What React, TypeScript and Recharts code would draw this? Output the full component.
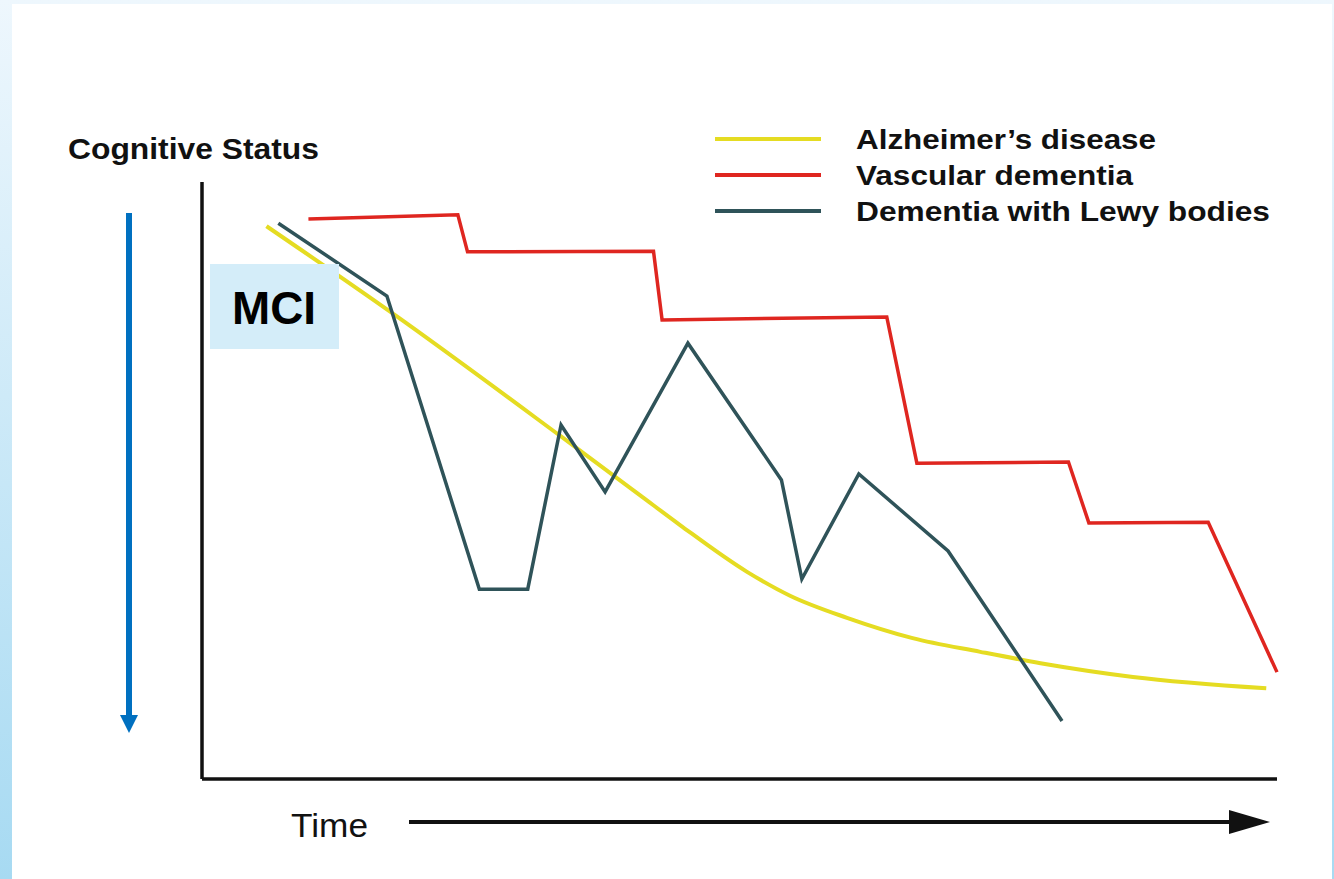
import React from 'react';
import { LineChart, Line, XAxis, YAxis, ReferenceLine } from 'recharts';

// time (0-100) vs cognitive status (0-100)
const alzheimer = [
  { t: 6.0, v: 92.6 },
  { t: 17.8, v: 77.9 },
  { t: 33.3, v: 57.5 },
  { t: 40.7, v: 47.6 },
  { t: 44.5, v: 42.5 },
  { t: 50.7, v: 34.7 },
  { t: 54.7, v: 30.7 },
  { t: 60.0, v: 27.0 },
  { t: 66.1, v: 23.6 },
  { t: 72.4, v: 21.3 },
  { t: 78.0, v: 19.4 },
  { t: 86.6, v: 17.1 },
  { t: 99.0, v: 15.2 },
];

const vascular = [
  { t: 9.9, v: 93.8 },
  { t: 23.8, v: 94.5 },
  { t: 24.7, v: 88.3 },
  { t: 42.0, v: 88.4 },
  { t: 42.8, v: 76.9 },
  { t: 63.7, v: 77.4 },
  { t: 66.5, v: 52.9 },
  { t: 80.6, v: 53.1 },
  { t: 82.5, v: 42.9 },
  { t: 93.6, v: 43.0 },
  { t: 100, v: 17.9 },
];

const lewy = [
  { t: 7.1, v: 93.1 },
  { t: 17.2, v: 80.9 },
  { t: 25.8, v: 31.8 },
  { t: 30.3, v: 31.8 },
  { t: 33.4, v: 59.3 },
  { t: 37.5, v: 48.1 },
  { t: 45.2, v: 73.0 },
  { t: 53.9, v: 50.1 },
  { t: 55.8, v: 33.5 },
  { t: 61.1, v: 51.1 },
  { t: 69.4, v: 38.2 },
  { t: 80.0, v: 9.7 },
];

const series = [
  { name: "Alzheimer\u2019s disease", color: '#e5dc22', data: alzheimer, smooth: true, textLength: 300 },
  { name: 'Vascular dementia', color: '#df2620', data: vascular, smooth: false, textLength: 277 },
  { name: 'Dementia with Lewy bodies', color: '#2f5359', data: lewy, smooth: false, textLength: 414 },
];

const W = 1334;
const H = 879;
const font = '"Liberation Sans", Arial, Helvetica, sans-serif';

function Overlay() {
  return (
    <svg
      width={W}
      height={H}
      style={{ position: 'absolute', left: 0, top: 0, pointerEvents: 'none' }}
    >
      <text x={68} y={159} fontFamily={font} fontWeight="bold" fontSize={30} fill="#111" textLength={251} lengthAdjust="spacingAndGlyphs">
        Cognitive Status
      </text>

      {/* downward blue arrow */}
      <line x1={129} y1={213} x2={129} y2={717} stroke="#0070c0" strokeWidth={6} />
      <polygon points="120,715 138,715 129,733" fill="#0070c0" />

      {/* MCI box */}
      <rect x={210} y={264} width={129} height={85} fill="#d4edf9" />
      <text x={274} y={324} textAnchor="middle" fontFamily={font} fontWeight="bold" fontSize={46} fill="#000" textLength={84} lengthAdjust="spacingAndGlyphs">
        MCI
      </text>

      {/* legend */}
      {series.map((s, i) => (
        <g key={s.name}>
          <line x1={715} x2={821} y1={139 + i * 36} y2={139 + i * 36} stroke={s.color} strokeWidth={4} />
          <text x={856} y={149 + i * 36} fontFamily={font} fontWeight="bold" fontSize={28} fill="#111" textLength={s.textLength} lengthAdjust="spacingAndGlyphs">
            {s.name}
          </text>
        </g>
      ))}

      {/* time arrow */}
      <text x={291} y={837} fontFamily={font} fontSize={33} fill="#111" textLength={77} lengthAdjust="spacingAndGlyphs">
        Time
      </text>
      <line x1={409} y1={822} x2={1232} y2={822} stroke="#111" strokeWidth={4} />
      <polygon points="1229,810 1270,822 1229,834" fill="#111" />
    </svg>
  );
}

export default function App() {
  return (
    <div
      style={{
        position: 'absolute',
        left: 0,
        top: 0,
        width: W,
        height: H,
        background: 'linear-gradient(to bottom, #eef7fd, #a7daf2)',
        overflow: 'hidden',
      }}
    >
      <div style={{ position: 'absolute', left: 12, top: 4, width: 1320, height: 875, background: '#fff' }} />
      <div style={{ position: 'absolute', left: 0, top: 0 }}>
        <LineChart width={W} height={H} margin={{ top: 182, right: 57, bottom: 100, left: 202 }}>
          <XAxis type="number" dataKey="t" domain={[0, 100]} hide />
          <YAxis type="number" dataKey="v" domain={[0, 100]} hide />
          <ReferenceLine x={0} stroke="#111" strokeWidth={3.5} />
          <ReferenceLine y={0} stroke="#111" strokeWidth={3.5} />
          {series.map((s) => (
            <Line
              key={s.name}
              data={s.data}
              dataKey="v"
              name={s.name}
              type={s.smooth ? 'monotone' : 'linear'}
              stroke={s.color}
              strokeWidth={s.smooth ? 4 : 3.5}
              dot={false}
              activeDot={false}
              isAnimationActive={false}
            />
          ))}
        </LineChart>
      </div>
      <Overlay />
    </div>
  );
}
